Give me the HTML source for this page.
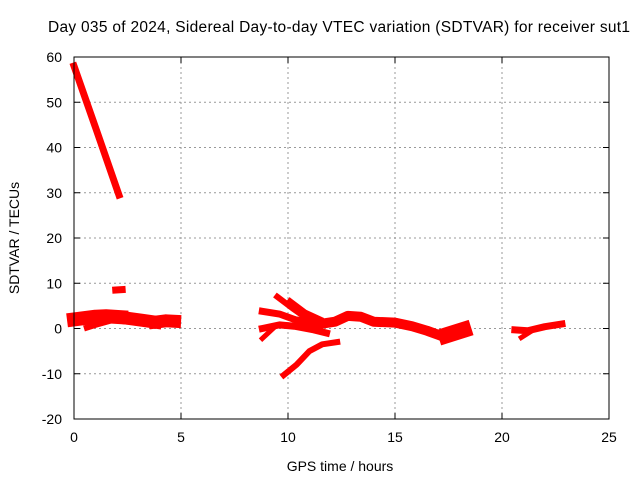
<!DOCTYPE html>
<html><head><meta charset="utf-8"><style>
html,body{margin:0;padding:0;background:#fff}
svg{display:block;font-family:"Liberation Sans",sans-serif}
</style></head><body>
<svg id="chart" width="640" height="480">
<text x="339" y="32" font-size="15.5" text-anchor="middle" textLength="582">Day 035 of 2024, Sidereal Day-to-day VTEC variation (SDTVAR) for receiver sut1</text>
<g id="grid"></g>
<g id="marks"></g>
<rect x="74" y="57" width="535" height="362" fill="none" stroke="#000" stroke-width="1"/>
<g id="ticks"></g>
<text x="340" y="471" font-size="14" text-anchor="middle">GPS time / hours</text>
<text transform="translate(19,238) rotate(-90)" font-size="14" text-anchor="middle">SDTVAR / TECUs</text>
</svg>
<script>
const xTicks=[0,5,10,15,20,25];
const yTicks=[-20,-10,0,10,20,30,40,50,60];
// tracks: [time(h), SDTVAR(TECU)] polylines with stroke widths
const track1=[[0,58],[1,44.5],[2.1,29.5]];
const track2=[[0,2],[0.5,2.3],[1,2.6],[1.5,2.7],[2.2,2.5]];
const track3=[[0.6,0.2],[1.0,0.8],[1.6,1.6]];
const track4=[[1.95,8.5],[2.25,8.6]];
const track5=[[2.6,2.2],[3.2,1.8],[3.8,1.4]];
const track6=[[3.8,1.4],[4.3,1.7],[4.7,1.6]];
const track7=[[9.5,7],[10.2,4.5],[10.8,2.5],[11.3,1.8]];
const track8=[[10.1,6],[10.8,3.5],[11.5,2]];
const track9=[[8.8,3.8],[9.6,3.2],[10.3,2],[10.9,1]];
const track10=[[8.8,0],[9.6,0.8],[10.3,0.5],[11.2,-0.3],[11.8,-1]];
const track11=[[8.8,-2.2],[9.3,0]];
const track12=[[9.8,-10.3],[10.4,-8],[11,-5],[11.6,-3.5],[12.3,-3]];
const track13=[[10.5,1.5],[11.5,1],[12.2,1.5],[12.8,2.8],[13.4,2.6],[14,1.5],[15,1.3],[15.8,0.5],[16.5,-0.5],[17.2,-1.7],[17.8,-1.5],[18.2,-0.5]];
const track14=[[17.4,-1.5],[18.2,-0.3]];
const track15=[[20.6,-0.3],[21.2,-0.5],[22,0.4],[22.8,1]];
const track16=[[20.9,-2],[21.3,-0.8]];
const tracks=[track1,track2,track3,track4,track5,track6,track7,track8,track9,track10,track11,track12,track13,track14,track15,track16];
const widths=[7,14,6,7,13,13,6,6,7,7,5,6,10,16,7,5];
const X=t=>74+t*535/25, Y=v=>57+(60-v)*362/80;
const NS="http://www.w3.org/2000/svg";
const g=document.getElementById('grid'),tk=document.getElementById('ticks'),m=document.getElementById('marks');
function mk(tag,attrs,parent){const e=document.createElementNS(NS,tag);for(const k in attrs)e.setAttribute(k,attrs[k]);parent.appendChild(e);return e;}
xTicks.forEach(t=>{const x=X(t);
 if(t>0&&t<25){const l=mk('line',{x1:x,x2:x,y1:57,y2:419,stroke:'#999','stroke-dasharray':'2,3'},g);}
 mk('line',{x1:x,x2:x,y1:419,y2:413,stroke:'#000'},tk);mk('line',{x1:x,x2:x,y1:57,y2:63,stroke:'#000'},tk);
 const tx=mk('text',{x:x,y:442,'font-size':14,'text-anchor':'middle'},tk);tx.textContent=t;
 
 
});
yTicks.forEach(v=>{const y=Y(v);
 if(v>-20&&v<60){const l=mk('line',{x1:74,x2:609,y1:y,y2:y,stroke:'#999','stroke-dasharray':'2,3'},g);}
 mk('line',{x1:74,x2:80,y1:y,y2:y,stroke:'#000'},tk);mk('line',{x1:603,x2:609,y1:y,y2:y,stroke:'#000'},tk);
 const tx=mk('text',{x:62,y:y+5,'font-size':14,'text-anchor':'end'},tk);tx.textContent=v;
 
 
});
tracks.forEach((tr,i)=>{
 const p=mk('polyline',{points:tr.map(d=>X(d[0])+','+Y(d[1])).join(' '),fill:'none',stroke:'#f00','stroke-width':widths[i],'stroke-linecap':'square','stroke-linejoin':'round'},m);
 
 
});
</script>
</body></html>
